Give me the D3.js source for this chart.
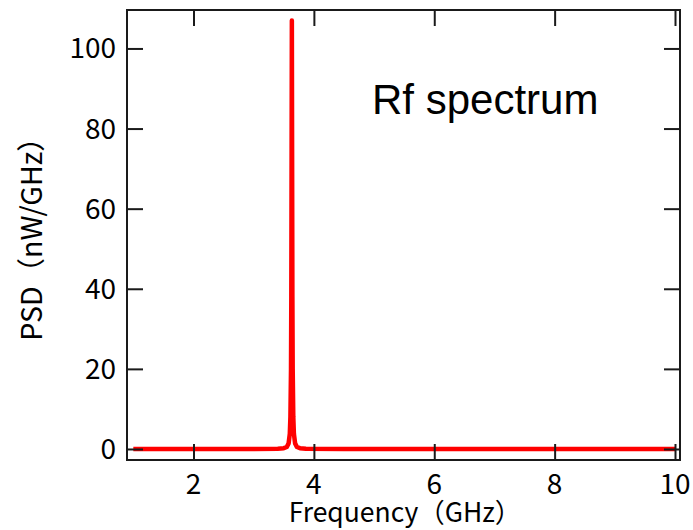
<!DOCTYPE html>
<html>
<head>
<meta charset="utf-8">
<script src="https://cdn.jsdelivr.net/npm/d3@7"></script>
<style>
  html, body { margin: 0; padding: 0; background: #fff; }
  svg { display: block; }
</style>
</head>
<body>
<svg id="chart" width="693" height="530"></svg>
<script>
// Frequency samples (GHz) and power spectral density (nW/GHz)
const frequency = [1.00, 2.00, 3.00, 3.40, 3.50, 3.55, 3.58, 3.60, 3.61, 3.62, 3.625, 3.63, 3.634,
                   3.638, 3.643, 3.648, 3.658, 3.668, 3.688, 3.718, 3.768, 3.868, 4.50, 6.00, 8.00, 10.00];
const psd       = [0.01, 0.01, 0.02, 0.08, 0.2, 0.5, 1.4, 3.8, 8, 20, 38, 75, 107,
                   75, 38, 20, 8, 3.8, 1.4, 0.5, 0.2, 0.08, 0.02, 0.01, 0.01, 0.01];

const xTicks = [2, 4, 6, 8, 10];
const yTicks = [0, 20, 40, 60, 80, 100];
const xDomain = [0.895, 10.083];
const yDomain = [-2.75, 109.6];

const titleText = "Rf spectrum";
const xLabel = "Frequency（GHz）";
const yLabel = "PSD（nW/GHz）";

const plot = { left: 127, right: 680, top: 10, bottom: 460 };
const axisColor = "#1a1a1a";
const textFont = "'Noto Sans CJK JP', 'Noto Sans', sans-serif";

const svg = d3.select("#chart");

const x = d3.scaleLinear().domain(xDomain).range([plot.left, plot.right]);
const y = d3.scaleLinear().domain(yDomain).range([plot.bottom, plot.top]);

// Spectrum trace
const line = d3.line()
  .x((d, i) => x(frequency[i]))
  .y(d => y(d));

svg.append("path")
  .datum(psd)
  .attr("d", line)
  .attr("fill", "none")
  .attr("stroke", "#ff0000")
  .attr("stroke-width", 4.5)
  .attr("stroke-linejoin", "round")
  .attr("stroke-linecap", "butt");

// Inward ticks on all four sides
const tickLen = 16;
function styleAxis(g) {
  g.select(".domain").remove();
  g.selectAll(".tick line").attr("stroke", axisColor).attr("stroke-width", 2);
  g.selectAll(".tick text").remove();
}

svg.append("g")
  .attr("transform", `translate(0,${plot.bottom})`)
  .call(d3.axisBottom(x).tickValues(xTicks).tickSizeInner(-tickLen).tickSizeOuter(0))
  .call(styleAxis);

svg.append("g")
  .attr("transform", `translate(0,${plot.top})`)
  .call(d3.axisTop(x).tickValues(xTicks).tickSizeInner(-tickLen).tickSizeOuter(0))
  .call(styleAxis);

svg.append("g")
  .attr("transform", `translate(${plot.left},0)`)
  .call(d3.axisLeft(y).tickValues(yTicks).tickSizeInner(-tickLen).tickSizeOuter(0))
  .call(styleAxis);

svg.append("g")
  .attr("transform", `translate(${plot.right},0)`)
  .call(d3.axisRight(y).tickValues(yTicks).tickSizeInner(-tickLen).tickSizeOuter(0))
  .call(styleAxis);

// Frame
svg.append("rect")
  .attr("x", plot.left)
  .attr("y", plot.top)
  .attr("width", plot.right - plot.left)
  .attr("height", plot.bottom - plot.top)
  .attr("fill", "none")
  .attr("stroke", axisColor)
  .attr("stroke-width", 2);

// Tick labels
svg.append("g")
  .selectAll("text")
  .data(xTicks)
  .join("text")
  .attr("x", d => x(d))
  .attr("y", 494)
  .attr("text-anchor", "middle")
  .attr("font-family", textFont)
  .attr("font-size", 28)
  .attr("fill", "#000")
  .text(d => d);

svg.append("g")
  .selectAll("text")
  .data(yTicks)
  .join("text")
  .attr("x", 116)
  .attr("y", d => y(d) + 10)
  .attr("text-anchor", "end")
  .attr("font-family", textFont)
  .attr("font-size", 28)
  .attr("fill", "#000")
  .text(d => d);

// Axis titles
svg.append("text")
  .attr("x", 405)
  .attr("y", 522)
  .attr("text-anchor", "middle")
  .attr("font-family", textFont)
  .attr("font-size", 26.5)
  .attr("fill", "#000")
  .text(xLabel);

svg.append("text")
  .attr("transform", `translate(42,232) rotate(-90)`)
  .attr("text-anchor", "middle")
  .attr("font-family", textFont)
  .attr("font-size", 28.5)
  .attr("fill", "#000")
  .text(yLabel);

// Annotation
svg.append("text")
  .attr("x", 372)
  .attr("y", 114)
  .attr("font-family", "'Liberation Sans', Arial, sans-serif")
  .attr("font-size", 42)
  .attr("fill", "#000")
  .text(titleText);
</script>
</body>
</html>
